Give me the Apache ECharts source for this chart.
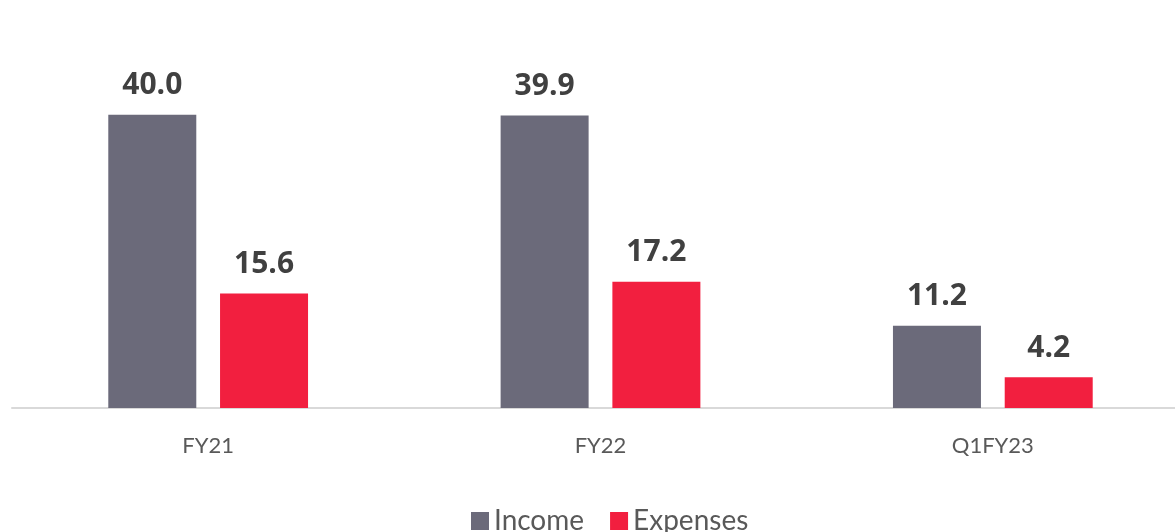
<!DOCTYPE html>
<html>
<head>
<meta charset="utf-8">
<script src="https://cdn.jsdelivr.net/npm/echarts@6/dist/echarts.min.js"></script>
<style>
  html, body { margin: 0; padding: 0; background: #fff; overflow: hidden; }
  /* wider than the window: the last category runs past the right edge, as in the source */
  #chart { width: 1189px; height: 532px; }
</style>
</head>
<body>
<div id="chart"></div>
<script>
const categories = ['FY21', 'FY22', 'Q1FY23']
const income = [40.0, 39.9, 11.2]
const expenses = [15.6, 17.2, 4.2]

const chart = echarts.init(document.getElementById('chart'))

const labelStyle = {
  show: true,
  position: 'top',
  distance: 14,
  color: '#404040',
  fontSize: 30,
  fontWeight: 'bold',
  fontFamily: '"Open Sans", Lato, sans-serif',
  formatter: p => p.value.toFixed(1)
}

chart.setOption({
  animation: false,
  backgroundColor: '#fff',
  grid: {
    left: 12,
    right: 0,
    top: 78,
    bottom: 124
  },
  legend: {
    bottom: -8,
    left: 466,
    itemWidth: 18,
    itemHeight: 18,
    itemGap: 26,
    icon: 'rect',
    textStyle: {
      color: '#595959',
      fontSize: 28,
      fontFamily: 'Lato, "Open Sans", sans-serif'
    },
    data: ['Income', 'Expenses']
  },
  xAxis: {
    type: 'category',
    data: categories,
    axisLine: { lineStyle: { color: '#d9d9d9', width: 2 } },
    axisTick: { show: false },
    axisLabel: {
      color: '#595959',
      fontSize: 22,
      margin: 27,
      fontFamily: 'Lato, "Open Sans", sans-serif'
    }
  },
  yAxis: {
    type: 'value',
    min: 0,
    max: 45,
    show: false,
    splitLine: { show: false }
  },
  series: [
    {
      name: 'Income',
      type: 'bar',
      data: income,
      barWidth: 88,
      barGap: '27%',
      itemStyle: { color: '#6b6a7a' },
      label: labelStyle
    },
    {
      name: 'Expenses',
      type: 'bar',
      data: expenses,
      barWidth: 88,
      itemStyle: { color: '#f21f3f' },
      label: labelStyle
    }
  ]
})
</script>
</body>
</html>
